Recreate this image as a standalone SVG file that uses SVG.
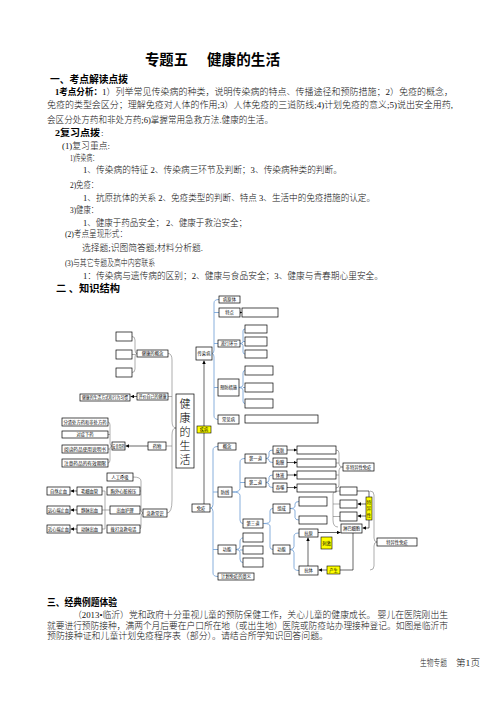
<svg xmlns="http://www.w3.org/2000/svg" width="496" height="702" viewBox="0 0 496 702">
<defs>
<style>
.p{font-family:"Liberation Serif","Noto Sans CJK SC",serif;font-size:9px;font-weight:300;fill:#111}
.pb{font-family:"Liberation Serif","Noto Sans CJK SC",serif;font-size:9px;font-weight:bold;fill:#000}
.h{font-family:"Liberation Serif","Noto Sans CJK SC",serif;font-size:10px;font-weight:bold;fill:#000}
.ti{font-family:"Liberation Serif","Noto Sans CJK SC",serif;font-size:14.5px;font-weight:bold;fill:#000}
.b rect{fill:#fff;stroke:#000;stroke-width:0.7}
.y rect{fill:#ffff00;stroke:#000;stroke-width:0.6}
.b text,.y text{font-family:"Liberation Serif","Noto Sans CJK SC",serif;font-size:4.3px;fill:#000;text-anchor:middle;dominant-baseline:central}
.big text{font-family:"Liberation Serif","Noto Sans CJK SC",serif;font-size:11px;font-weight:300;fill:#000;text-anchor:middle;dominant-baseline:central}
.br{fill:none;stroke:#7ba6d8;stroke-width:0.9}
.gr{fill:none;stroke:#777;stroke-width:0.6}
.ln{fill:none;stroke:#000;stroke-width:0.6}
.ar{fill:none;stroke:#000;stroke-width:0.6;marker-end:url(#ah)}
</style>
<marker id="ah" markerWidth="3.5" markerHeight="3.5" refX="3.5" refY="1.75" orient="auto" markerUnits="userSpaceOnUse"><path d="M0,0 L3.5,1.75 L0,3.5 z" fill="#000"/></marker>
</defs>
<rect width="496" height="702" fill="#fff"/>

<!-- text block -->
<text class="ti" x="145" y="65" textLength="43" lengthAdjust="spacingAndGlyphs">专题五</text>
<text class="ti" x="207" y="65" textLength="73" lengthAdjust="spacingAndGlyphs">健康的生活</text>
<text class="h" x="50" y="82.5" textLength="78" lengthAdjust="spacingAndGlyphs">一、考点解读点拨</text>
<text class="pb" x="55" y="94.5" textLength="47" lengthAdjust="spacingAndGlyphs">1考点分析：</text>
<text class="p" x="102" y="94.5" textLength="351" lengthAdjust="spacingAndGlyphs">1）列举常见传染病的种类，说明传染病的特点、传播途径和预防措施；2）免疫的概念，</text>
<text class="p" x="47" y="107.5" textLength="406" lengthAdjust="spacingAndGlyphs">免疫的类型会区分；理解免疫对人体的作用;3）人体免疫的三道防线;4)计划免疫的意义;5)说出安全用药,</text>
<text class="p" x="47" y="122.5" textLength="226" lengthAdjust="spacingAndGlyphs">会区分处方药和非处方药;6)掌握常用急救方法.健康的生活。</text>
<text class="pb" x="55" y="135.5" textLength="45" lengthAdjust="spacingAndGlyphs">2复习点拨</text>
<text class="p" x="101" y="135.5">:</text>
<text class="p" x="62" y="148.5" textLength="48" lengthAdjust="spacingAndGlyphs">(1)复习重点:</text>
<text class="p" x="70" y="160.5" textLength="28" lengthAdjust="spacingAndGlyphs">1)传染病：</text>
<text class="p" x="83" y="172.5" textLength="259" lengthAdjust="spacingAndGlyphs">1、传染病的特征 2、传染病三环节及判断；3、传染病种类的判断。</text>
<text class="p" x="70" y="188" textLength="28" lengthAdjust="spacingAndGlyphs">2)免疫：</text>
<text class="p" x="83" y="200.5" textLength="292" lengthAdjust="spacingAndGlyphs">1、抗原抗体的关系 2、免疫类型的判断、特点 3、生活中的免疫措施的认定。</text>
<text class="p" x="70" y="212.5" textLength="28" lengthAdjust="spacingAndGlyphs">3)健康：</text>
<text class="p" x="83" y="225.5" textLength="164" lengthAdjust="spacingAndGlyphs">1、健康于药品安全；  2、健康于救治安全；</text>
<text class="p" x="65" y="237" textLength="62" lengthAdjust="spacingAndGlyphs">(2)考点呈现形式：</text>
<text class="p" x="82" y="250.5" textLength="121" lengthAdjust="spacingAndGlyphs">选择题;识图简答题;材料分析题.</text>
<text class="p" x="65" y="265.5" textLength="90" lengthAdjust="spacingAndGlyphs">(3)与其它专题及高中内容联系</text>
<text class="p" x="83" y="278.5" textLength="300" lengthAdjust="spacingAndGlyphs">1：传染病与遗传病的区别；2、健康与食品安全；3、健康与青春期心里安全。</text>
<text class="h" x="56" y="291.5" textLength="64" lengthAdjust="spacingAndGlyphs">二 、知识结构</text>

<text class="h" x="47" y="605.5" textLength="70" lengthAdjust="spacingAndGlyphs">三、经典例题体验</text>
<text class="p" x="73" y="617.5" textLength="375" lengthAdjust="spacingAndGlyphs">（2013•临沂）党和政府十分重视儿童的预防保健工作，关心儿童的健康成长。 婴儿在医院刚出生</text>
<text class="p" x="47" y="628.5" textLength="401" lengthAdjust="spacingAndGlyphs">就要进行预防接种，满两个月后要在户口所在地（或出生地）医院或防疫站办理接种登记。如图是临沂市</text>
<text class="p" x="47" y="638.5" textLength="281" lengthAdjust="spacingAndGlyphs">预防接种证和儿童计划免疫程序表（部分）。请结合所学知识回答问题。</text>
<text class="p" x="420" y="665.5" textLength="27" lengthAdjust="spacingAndGlyphs">生物专题</text>
<text class="p" x="456" y="665.5" textLength="24" lengthAdjust="spacingAndGlyphs">第1页</text>

<!-- connectors -->
<g id="connectors">
<path class="br" d="M219 299.5 Q214 299.5 214 303 L214 350 Q214 353.5 212 353.5 Q214 353.5 214 357 L214 416 Q214 419.5 219 419.5 M214 312.5 H219 M214 343.5 H218 M214 387.5 H218"/>
<path class="ar" d="M240 312.5 H242"/>
<path class="br" d="M245 329 Q243 329 243 331 L243 341.5 Q243 343.5 240 343.5 Q243 343.5 243 345.5 L243 352 Q243 354 245 354 M243 341.5 H245"/>
<path class="br" d="M245 370.5 Q243 370.5 243 373 L243 385 Q243 387.5 239 387.5 Q243 387.5 243 390 L243 401 Q243 403.5 245 403.5 M243 387.5 H245"/>
<path class="ar" d="M204 426 V360.5"/>
<path class="ln" d="M204 433 V504"/>
<path class="br" d="M218 446.5 Q213 446.5 213 450 L213 504.5 Q213 508 210.5 508 Q213 508 213 511.5 L213 573 Q213 576.5 218 576.5 M213 492 H218 M213 549.5 H218"/>
<path class="br" d="M245 458.5 Q240 458.5 240 462 L240 488.5 Q240 492 232.5 492 Q240 492 240 495.5 L240 520 Q240 523.5 243 523.5 M240 482.5 H245"/>
<path class="br" d="M246 537.5 Q240 537.5 240 541 L240 547 Q240 549.5 236 549.5 Q240 549.5 240 552 L240 559 Q240 562.5 243 562.5 M240 550 H243"/>
<path class="br" d="M273 450 Q269 450 269 452.5 L269 456 Q269 458.5 266 458.5 Q269 458.5 269 460 L269 460.5 Q269 462.5 273 462.5"/>
<path class="br" d="M273 475 Q269 475 269 477.5 L269 480 Q269 482.5 266 482.5 Q269 482.5 269 484.5 L269 485.5 Q269 487.5 273 487.5"/>
<path class="ar" d="M287 450 H297"/>
<path class="ar" d="M287 462.5 H297"/>
<path class="ar" d="M287 475 H297"/>
<path class="ar" d="M287 487.5 H297"/>
<path class="gr" d="M336 450 Q339 450 339 453 L339 464 Q339 467 343 467 Q339 467 339 470 L339 485 Q339 488 336 488 M336 463 H339 M336 475 H339"/>
<path class="br" d="M273 508.5 Q270 508.5 270 511 L270 521 Q270 523.5 263.5 523.5 Q270 523.5 270 526 L270 547 Q270 549.5 273 549.5"/>
<path class="br" d="M299 501.5 Q295 501.5 295 504 L295 506 Q295 508.5 290 508.5 Q295 508.5 295 511 L295 517.5 Q295 520 299 520"/>
<path class="br" d="M299 533 Q294 533 294 536 L294 546.5 Q294 549.5 290 549.5 Q294 549.5 294 552.5 L294 567.5 Q294 570.5 299 570.5"/>
<path class="ar" d="M308 566 V537.5"/>
<path class="ar" d="M327 570 H318.5"/>
<path class="ln" d="M340 570 H353 V533"/>
<path class="ar" d="M318 532.5 H340.5"/>
<path class="gr" d="M340 491 Q333 491 333 494 L333 520 Q333 527 338 527 M333 504 H340 M333 516.5 H340"/>
<path class="ln" d="M357 491 H369 V497"/>
<path class="ar" d="M366 504 H357.5"/>
<path class="ar" d="M366 516 H357.5"/>
<path class="ar" d="M369 520 V528 H362.5"/>
<path class="gr" d="M370 491 Q374 491 374 495 L374 538 Q374 542 377 542 Q374 542 374 546 L374 566 Q374 570 370 570"/>
<path class="gr" d="M132 336.5 Q135 336.5 135 340 L135 350 Q135 353.5 137 353.5 Q135 353.5 135 357 L135 369 Q135 372.5 132 372.5 M132 354.5 H135"/>
<path class="ar" d="M137 396.5 H130.5"/>
<path class="gr" d="M168 353.5 Q172 353.5 172 360 L172 421 Q172 428 176 428 Q172 428 172 435 L172 500 Q172 513 167 513 M168 396.5 H172 M166 446 H172"/>
<path class="gr" d="M108 422 Q110 422 110 425 L110 443 Q110 446 112 446 Q110 446 110 449 L110 460 Q110 463 108 463 M108 434.5 H110 M108 449 H110"/>
<path class="ar" d="M148 446 H125.5"/>
<path class="gr" d="M102 491 H105 V529 H102 M102 510 H110"/>
<path class="ar" d="M77 491 H70.5"/>
<path class="ar" d="M77 510 H70.5"/>
<path class="ar" d="M77 529 H70.5"/>
<path class="gr" d="M133 477 Q141 477 141 481 L141 509 Q141 513 143 513 Q141 513 141 517 L141 525 Q141 529 140 529 M140 491 H141 M140 510 H141"/>
</g>

<!-- nodes -->
<g id="n-health" class="big"><rect x="176" y="394" width="18" height="74" fill="#fff" stroke="#000" stroke-width="0.7"/>
<text x="185" y="404">健</text><text x="185" y="418">康</text><text x="185" y="432">的</text><text x="185" y="446">生</text><text x="185" y="460">活</text></g>

<g id="n-crb" class="b"><rect x="196" y="347" width="16" height="13"/><text x="204" y="353.5">传染病</text></g>
<g id="n-pathogen" class="b"><rect x="219" y="296" width="21" height="7"/><text x="229.5" y="299.5">病原体</text></g>
<g id="n-feature" class="b"><rect x="219" y="308" width="21" height="9"/><text x="229.5" y="312.5">特点</text></g>
<g id="n-feature-v" class="b"><rect x="242" y="308" width="36" height="9"/></g>
<g id="n-link" class="b"><rect x="218" y="340" width="22" height="7"/><text x="229" y="343.5">流行环节</text></g>
<g id="n-link1" class="b"><rect x="245" y="325" width="22" height="8"/></g>
<g id="n-link2" class="b"><rect x="245" y="337" width="22" height="9"/></g>
<g id="n-link3" class="b"><rect x="245" y="350" width="22" height="8"/></g>
<g id="n-prevent" class="b"><rect x="218" y="379" width="21" height="17"/><text x="228.5" y="387.5">预防措施</text></g>
<g id="n-prev1" class="b"><rect x="245" y="366" width="28" height="9"/></g>
<g id="n-prev2" class="b"><rect x="245" y="383" width="28" height="9"/></g>
<g id="n-prev3" class="b"><rect x="245" y="399" width="28" height="9"/></g>
<g id="n-kind" class="b"><rect x="218" y="415" width="21" height="9"/><text x="228.5" y="419.5">常见病</text></g>
<g id="n-kind-v" class="b"><rect x="245" y="415" width="73" height="8"/></g>

<g id="n-disease" class="y"><rect x="197" y="426" width="14" height="7"/><text x="204" y="429.5">疾病</text></g>

<g id="n-imm" class="b"><rect x="192" y="504" width="18" height="8"/><text x="201" y="508">免疫</text></g>
<g id="n-concept" class="b"><rect x="218" y="443" width="18" height="7"/><text x="227" y="446.5">概念</text></g>
<g id="n-lines" class="b"><rect x="218" y="487" width="14" height="10"/><text x="225" y="492">防线</text></g>
<g id="n-func" class="b"><rect x="218" y="545" width="18" height="9"/><text x="227" y="549.5">功能</text></g>
<g id="n-f1" class="b"><rect x="243" y="533" width="20" height="9"/></g>
<g id="n-f2" class="b"><rect x="243" y="546" width="20" height="8"/></g>
<g id="n-f3" class="b"><rect x="243" y="558" width="20" height="9"/></g>
<g id="n-plan" class="b"><rect x="218" y="573" width="36" height="7"/><text x="236" y="576.5">计划免疫的意义</text></g>

<g id="n-l1" class="b"><rect x="245" y="454" width="21" height="9"/><text x="255.5" y="458.5">第一道</text></g>
<g id="n-l2" class="b"><rect x="245" y="478" width="21" height="9"/><text x="255.5" y="482.5">第二道</text></g>
<g id="n-l3" class="b"><rect x="243" y="519" width="20" height="9"/><text x="253" y="523.5">第三道</text></g>
<g id="n-skin" class="b"><rect x="273" y="446" width="14" height="8"/><text x="280" y="450">皮肤</text></g>
<g id="n-mucosa" class="b"><rect x="273" y="458" width="14" height="9"/><text x="280" y="462.5">黏膜</text></g>
<g id="n-bact" class="b"><rect x="273" y="471" width="14" height="8"/><text x="280" y="475">体液</text></g>
<g id="n-phago" class="b"><rect x="273" y="483" width="14" height="9"/><text x="280" y="487.5">吞噬</text></g>
<g id="n-v1" class="b"><rect x="297" y="446" width="39" height="8"/></g>
<g id="n-v2" class="b"><rect x="297" y="459" width="39" height="8"/></g>
<g id="n-v3" class="b"><rect x="297" y="471" width="39" height="8"/></g>
<g id="n-v4" class="b"><rect x="297" y="484" width="39" height="8"/></g>
<g id="n-nonspec" class="b"><rect x="343" y="463" width="31" height="8"/><text x="358.5" y="467">非特异性免疫</text></g>

<g id="n-comp" class="b"><rect x="273" y="504" width="17" height="9"/><text x="281.5" y="508.5">组成</text></g>
<g id="n-act" class="b"><rect x="273" y="545" width="17" height="9"/><text x="281.5" y="549.5">功能</text></g>
<g id="n-c1" class="b"><rect x="299" y="497" width="28" height="9"/></g>
<g id="n-c2" class="b"><rect x="299" y="516" width="28" height="8"/></g>
<g id="n-antigen" class="b"><rect x="299" y="529" width="19" height="8"/><text x="308.5" y="533">抗原</text></g>
<g id="n-antibody" class="b"><rect x="299" y="566" width="19" height="9"/><text x="308.5" y="570.5">抗体</text></g>
<g id="n-stim" class="y"><rect x="321" y="537" width="11" height="12"/><text x="326.5" y="543">刺激</text></g>
<g id="n-produce" class="y"><rect x="327" y="566" width="13" height="8"/><text x="333.5" y="570">产生</text></g>
<g id="n-lymph" class="b"><rect x="341" y="524" width="21" height="9"/><text x="351.5" y="528.5">淋巴细胞</text></g>
<g id="n-r1" class="b"><rect x="340" y="487" width="17" height="8"/></g>
<g id="n-r2" class="b"><rect x="340" y="500" width="17" height="8"/></g>
<g id="n-r3" class="b"><rect x="340" y="512" width="17" height="9"/></g>
<g id="n-specy" class="y"><rect x="366" y="497" width="6" height="23"/><text x="369" y="502">特</text><text x="369" y="508.5">异</text><text x="369" y="515">性</text></g>
<g id="n-spec" class="b"><rect x="377" y="538" width="40" height="8"/><text x="397" y="542">特异性免疫</text></g>

<g id="n-e1" class="b"><rect x="116" y="332" width="16" height="9"/></g>
<g id="n-e2" class="b"><rect x="116" y="350" width="16" height="9"/></g>
<g id="n-e3" class="b"><rect x="116" y="368" width="16" height="9"/></g>
<g id="n-hconcept" class="b"><rect x="137" y="350" width="31" height="7"/><text x="152.5" y="353.5">健康的概念</text></g>
<g id="n-eval" class="b"><rect x="137" y="393" width="31" height="7"/><text x="152.5" y="396.5" textLength="28" lengthAdjust="spacingAndGlyphs">评价自己的健康</text></g>
<g id="n-life" class="b"><rect x="80" y="394" width="50" height="7"/><text x="105" y="397.5" textLength="46" lengthAdjust="spacingAndGlyphs">健康的生活方式和行为习惯</text></g>

<g id="n-d1" class="b"><rect x="62" y="418" width="46" height="8"/><text x="85" y="422" textLength="43" lengthAdjust="spacingAndGlyphs">分清处方药和非处方药</text></g>
<g id="n-d2" class="b"><rect x="62" y="431" width="46" height="7"/><text x="85" y="434.5">对症下药</text></g>
<g id="n-d3" class="b"><rect x="62" y="445" width="46" height="8"/><text x="85" y="449" textLength="42" lengthAdjust="spacingAndGlyphs">阅读药品使用说明书</text></g>
<g id="n-d4" class="b"><rect x="62" y="459" width="46" height="8"/><text x="85" y="463" textLength="42" lengthAdjust="spacingAndGlyphs">注意药品的有效期限</text></g>
<g id="n-safe" class="b"><rect x="112" y="442" width="13" height="8"/><text x="118.5" y="446" textLength="12" lengthAdjust="spacingAndGlyphs">安全用药</text></g>
<g id="n-drug" class="b"><rect x="148" y="442" width="18" height="8"/><text x="157" y="446">药物</text></g>

<g id="n-a1" class="b"><rect x="107" y="473" width="26" height="8"/><text x="120" y="477">人工呼吸</text></g>
<g id="n-a2" class="b"><rect x="107" y="487" width="33" height="8"/><text x="123.5" y="491">胸外心脏按压</text></g>
<g id="n-a3" class="b"><rect x="110" y="506" width="30" height="8"/><text x="125" y="510">出血护理</text></g>
<g id="n-a4" class="b"><rect x="107" y="525" width="33" height="8"/><text x="123.5" y="529">拨打急救电话</text></g>
<g id="n-m1" class="b"><rect x="77" y="487" width="25" height="8"/><text x="89.5" y="491">毛细血管</text></g>
<g id="n-m2" class="b"><rect x="77" y="506" width="25" height="8"/><text x="89.5" y="510">静脉出血</text></g>
<g id="n-m3" class="b"><rect x="77" y="525" width="25" height="8"/><text x="89.5" y="529">动脉出血</text></g>
<g id="n-s1" class="b"><rect x="47" y="487" width="23" height="8"/><text x="58.5" y="491">自然止血</text></g>
<g id="n-s2" class="b"><rect x="47" y="506" width="23" height="8"/><text x="58.5" y="510" textLength="21" lengthAdjust="spacingAndGlyphs">远心端止血</text></g>
<g id="n-s3" class="b"><rect x="47" y="525" width="23" height="8"/><text x="58.5" y="529" textLength="21" lengthAdjust="spacingAndGlyphs">近心端止血</text></g>
<g id="n-aid" class="b"><rect x="143" y="509" width="24" height="8"/><text x="155" y="513">急救常识</text></g>
</svg>
